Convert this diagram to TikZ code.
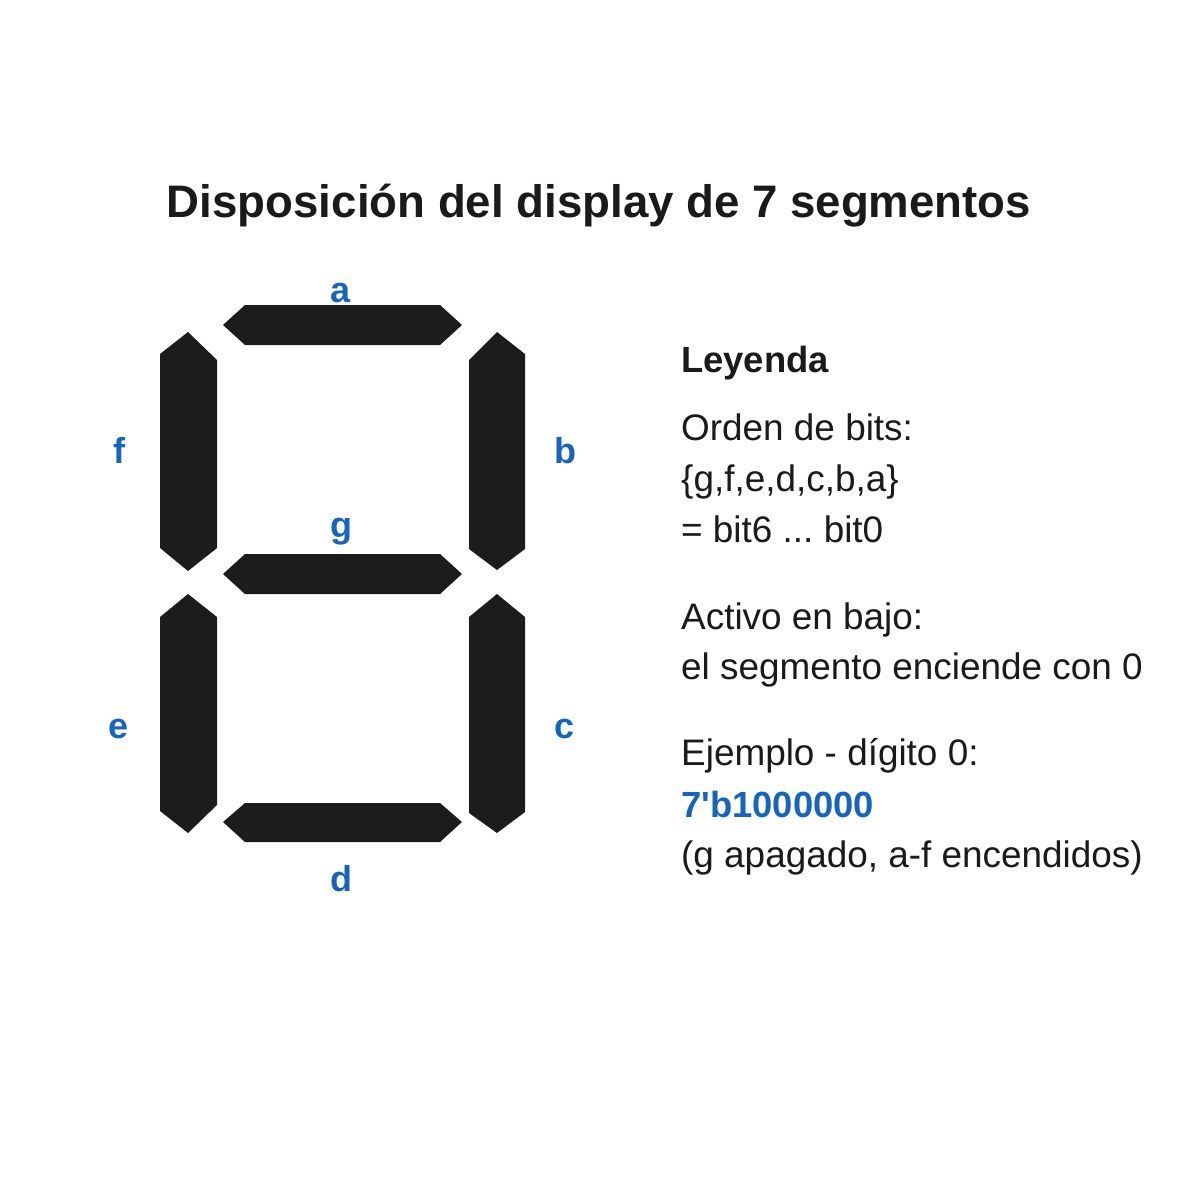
\documentclass[tikz,border=0pt]{standalone}
\usepackage{fontspec}
\setmainfont{Liberation Sans}[Ligatures=TeXOff]
\frenchspacing
\definecolor{seg}{HTML}{1C1C1C}
\definecolor{ink}{HTML}{1A1A1A}
\definecolor{lbl}{HTML}{1565C0}
\tikzset{
  segfill/.style={fill=seg, draw=none},
  seglabel/.style={anchor=base, inner sep=0pt, text=lbl, font=\fontsize{36}{40}\selectfont\bfseries},
  legtext/.style={anchor=base west, inner sep=0pt, text=ink, font=\fontsize{36.9}{40}\selectfont},
  legbold/.style={legtext, font=\fontsize{36.4}{40}\selectfont\bfseries},
  titletext/.style={anchor=base, inner sep=0pt, text=ink, font=\fontsize{45.6}{50}\selectfont\bfseries}
}
\begin{document}
\begin{tikzpicture}[x=1pt,y=-1pt]
\useasboundingbox[fill=white] (0,0) rectangle (1200,1200);
\node[titletext] (title) at (599,217) {Disposición del display de 7 segmentos};
% segments
\fill[segfill] (223,325) -- (245,305) -- (440,305) -- (462,325) -- (440,345) -- (245,345) -- cycle; % a
\fill[segfill] (497,332) -- (525,354) -- (525,549) -- (497,570) -- (469,549) -- (469,360) -- cycle; % b
\fill[segfill] (497,594) -- (525,617) -- (525,812) -- (497,833) -- (469,813) -- (469,617) -- cycle; % c
\fill[segfill] (223,822) -- (245,803) -- (440,803) -- (462,822) -- (440,842) -- (245,842) -- cycle; % d
\fill[segfill] (188,594) -- (217,617) -- (217,805) -- (188,833) -- (160,811) -- (160,617) -- cycle; % e
\fill[segfill] (188,332) -- (217,360) -- (217,548) -- (188,571) -- (160,548) -- (160,354) -- cycle; % f
\fill[segfill] (223,574) -- (245,554) -- (440,554) -- (462,574) -- (440,594) -- (245,594) -- cycle; % g
% labels
\node[seglabel] (la) at (341,302) {a};
\node[seglabel] (lb) at (565,463) {b};
\node[seglabel] (lc) at (565,738) {c};
\node[seglabel] (ld) at (341,891) {d};
\node[seglabel] (le) at (119,738) {e};
\node[seglabel] (lf) at (119,463) {f};
\node[seglabel] (lg) at (341,537) {g};
% legend
\node[legbold] (ley) at (681,372) {Leyenda};
\node[legtext] (l1) at (681,440) {Orden de bits:};
\node[legtext] (l2) at (681,491) {\{g,f,e,d,c,b,a\}};
\node[legtext] (l3) at (681,542) {= bit6 ... bit0};
\node[legtext] (l4) at (681,629) {Activo en bajo:};
\node[legtext] (l5) at (681,679) {el segmento enciende con 0};
\node[legtext] (l6) at (681,765) {Ejemplo - dígito 0:};
\node[legbold, text=lbl] (l7) at (681,817) {7'b1000000};
\node[legtext] (l8) at (681,867) {(g apagado, a-f encendidos)};
\end{tikzpicture}
\end{document}
